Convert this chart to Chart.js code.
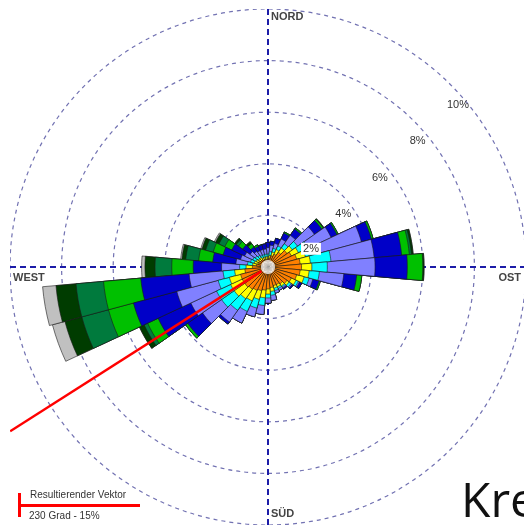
<!DOCTYPE html>
<html>
<head>
<meta charset="utf-8">
<script src="https://cdn.jsdelivr.net/npm/chart.js@4.4.0/dist/chart.umd.min.js"></script>
<style>
html, body { margin: 0; padding: 0; background: #fff; overflow: hidden; width: 524px; height: 526px; }
#wrap { position: absolute; left: 10px; top: 9px; width: 516px; height: 516px; }
#kre { position: absolute; left: 461px; top: 466px; font: 48px "Open Sans", sans-serif; color: #111; white-space: nowrap; }
</style>
</head>
<body>
<div id="wrap"><canvas id="rose" width="516" height="516"></canvas></div>
<div id="kre">Kre</div>
<script>
// wind direction sectors (degrees, 10 degree bins)
const directions = [0, 10, 20, 30, 40, 50, 60, 70, 80, 90, 100, 110, 120, 130, 140, 150, 160, 170,
                    180, 190, 200, 210, 220, 230, 240, 250, 260, 270, 280, 290, 300, 310, 320, 330, 340, 350];

// frequency (%) per speed class and direction
const calm   = [.27, .27, .27, .27, .27, .27, .27, .27, .27, .27, .27, .27, .27, .27, .27, .27, .27, .27,
                .27, .27, .27, .27, .27, .27, .27, .27, .27, .27, .27, .27, .27, .27, .27, .27, .27, .27];
const class1 = [.03, .08, .18, .28, .43, .63, .73, .88, .98, 1.03, .98, .88, .73, .63, .53, .48, .48, .53,
                .58, .63, .68, .73, .78, .83, .83, .83, .63, .33, .18, .13, .13, .08, .08, .03, .03, .03];
const class2 = [.10, .10, .15, .20, .20, .25, .30, .35, .40, .40, .35, .30, .20, .10, .10, .10, .10, .15,
                .20, .30, .35, .45, .45, .50, .50, .45, .40, .25, .15, .15, .10, .10, .10, .10, .10, .10];
const class3 = [.10, .15, .15, .15, .20, .25, .40, .45, .80, .60, .40, .20, .10, .10, .05, .07, .10, .15,
                .15, .30, .35, .45, .55, .60, .60, .45, .45, .25, .20, .15, .15, .15, .10, .10, .10, .10];
const class4 = [.25, .25, .20, .30, .40, .80, 1.00, 1.80, 1.68, 1.85, .95, .15, .05, .05, .05, .08, .10, .20,
                .20, .35, .35, .50, .55, .90, 1.10, 1.66, 1.32, .70, .45, .40, .35, .25, .20, .20, .20, .20];
const class5 = [.20, .15, .20, .25, .30, .35, .25, .40, 1.07, 1.25, .50, .25, .10, .05, .05, 0, 0, 0,
                0, 0, 0, 0, .10, .70, 1.40, 1.74, 1.88, 1.10, .90, .70, .55, .35, .20, .18, .18, .20];
const class6 = [0, 0, 0, .05, .05, .07, .05, .07, .30, .60, .20, .05, 0, 0, 0, 0, 0, 0,
                0, 0, 0, 0, 0, .10, .45, 1.00, 1.45, .83, .55, .40, .30, .20, .15, .07, .02, 0];
const class7 = [0, 0, 0, 0, 0, 0, 0, 0, .08, 0, 0, 0, 0, 0, 0, 0, 0, 0,
                0, 0, 0, 0, 0, 0, .15, 1.07, 1.07, .65, .50, .30, .25, .10, 0, 0, 0, 0];
const class8 = [0, 0, 0, 0, 0, .03, 0, 0, .07, .05, 0, 0, 0, 0, 0, 0, 0, 0,
                0, 0, 0, 0, 0, 0, .20, .68, .78, .39, .15, .15, .15, .08, .10, 0, 0, 0];
const class9 = [0, 0, 0, 0, 0, 0, 0, 0, 0, 0, 0, 0, 0, 0, 0, 0, 0, 0,
                0, 0, 0, 0, 0, 0, 0, .50, .52, .13, .05, .05, .05, 0, 0, 0, 0, 0];

const ringTicks = [2, 4, 6, 8, 10];
const compass = ['NORD', 'OST', 'SÜD', 'WEST'];
const vectorDir = 237.5;   // as drawn in the picture
const vectorLen = 11.85;
const legendLines = ['Resultierender Vektor', '230 Grad - 15%'];

const classes = [calm, class1, class2, class3, class4, class5, class6, class7, class8, class9];
const colors = ['#ffffff', '#ff8000', '#ffff00', '#00ffff', '#8080ff', '#0000c8', '#00c000', '#007a3d', '#003c00', '#c0c0c0'];

// stacked rose: each dataset holds the running total, outer ones get drawn first
let run = directions.map(() => 0);
const datasets = classes.map((vals, k) => {
    run = run.map((s, i) => s + vals[i]);
    return {
        data: run.slice(),
        backgroundColor: colors[k],
        borderColor: k === 0 ? '#ffffff' : '#1a1a1a',
        borderWidth: k === 0 ? 0 : 0.6
    };
});

function toXY(r, value, bearing) {
    const d = r.getDistanceFromCenterForValue(value);
    const a = bearing * Math.PI / 180;
    return [r.xCenter + d * Math.sin(a), r.yCenter - d * Math.cos(a)];
}

const roseDecor = {
    id: 'roseDecor',
    beforeDatasetsDraw(chart) {
        const r = chart.scales.r, ctx = chart.ctx;
        const cx = r.xCenter, cy = r.yCenter, L = r.getDistanceFromCenterForValue(10);
        ctx.save();
        ctx.strokeStyle = '#1c1ca8';
        ctx.lineWidth = 2;
        ctx.setLineDash([6, 4]);
        ctx.beginPath();
        ctx.moveTo(cx - L, cy); ctx.lineTo(cx + L + 4, cy);
        ctx.moveTo(cx, cy - L); ctx.lineTo(cx, cy + L + 4);
        ctx.stroke();
        ctx.restore();
    },
    afterDatasetsDraw(chart) {
        const r = chart.scales.r, ctx = chart.ctx;
        const cx = r.xCenter, cy = r.yCenter;
        ctx.save();

        // resultant vector
        const p0 = toXY(r, 0.3, vectorDir), p1 = toXY(r, vectorLen, vectorDir);
        ctx.strokeStyle = '#ff0000';
        ctx.lineWidth = 2.5;
        ctx.beginPath(); ctx.moveTo(p0[0], p0[1]); ctx.lineTo(p1[0], p1[1]); ctx.stroke();

        // ring labels
        const spots = [[1.81, 67], [3.56, 55], [5.54, 51.5], [7.57, 50], [9.68, 49.5]];
        ctx.font = '11px "Liberation Sans", Arial, sans-serif';
        ctx.textAlign = 'center';
        ctx.textBaseline = 'middle';
        ringTicks.forEach((v, i) => {
            const p = toXY(r, spots[i][0], spots[i][1]);
            const t = v + '%';
            if (i === 0) {
                const w = ctx.measureText(t).width;
                ctx.fillStyle = '#ffffff';
                ctx.fillRect(p[0] - w / 2 - 2, p[1] - 6, w + 4, 12);
            }
            ctx.fillStyle = '#333';
            ctx.fillText(t, p[0], p[1]);
        });

        // compass labels
        ctx.font = 'bold 11px "Liberation Sans", Arial, sans-serif';
        ctx.fillStyle = '#444';
        ctx.textAlign = 'left';
        ctx.fillText(compass[0], cx + 3, cy - 250);
        ctx.fillText(compass[2], cx + 3, cy + 247);
        ctx.fillText(compass[3], cx - 255, cy + 11);
        ctx.textAlign = 'right';
        ctx.fillText(compass[1], cx + 253, cy + 11);

        // legend for the vector
        ctx.strokeStyle = '#ff0000';
        ctx.lineWidth = 3;
        ctx.beginPath();
        ctx.moveTo(9.5, 484); ctx.lineTo(9.5, 508);
        ctx.moveTo(9, 496.5); ctx.lineTo(130, 496.5);
        ctx.stroke();
        ctx.font = '10px "Liberation Sans", Arial, sans-serif';
        ctx.fillStyle = '#333';
        ctx.textAlign = 'left';
        ctx.fillText(legendLines[0], 20, 486);
        ctx.fillText(legendLines[1], 19, 507);
        ctx.restore();
    }
};

new Chart(document.getElementById('rose'), {
    type: 'polarArea',
    data: { labels: directions.map(d => d + '°'), datasets: datasets },
    options: {
        responsive: false,
        animation: false,
        plugins: { legend: { display: false }, tooltip: { enabled: false } },
        scales: {
            r: {
                min: 0,
                max: 10,
                startAngle: -5,
                ticks: { display: false, stepSize: 2 },
                grid: { color: '#7272b2', lineWidth: 1.2, circular: true },
                border: { dash: [4, 4] },
                angleLines: { display: false },
                pointLabels: { display: false }
            }
        }
    },
    plugins: [roseDecor]
});
</script>
</body>
</html>
